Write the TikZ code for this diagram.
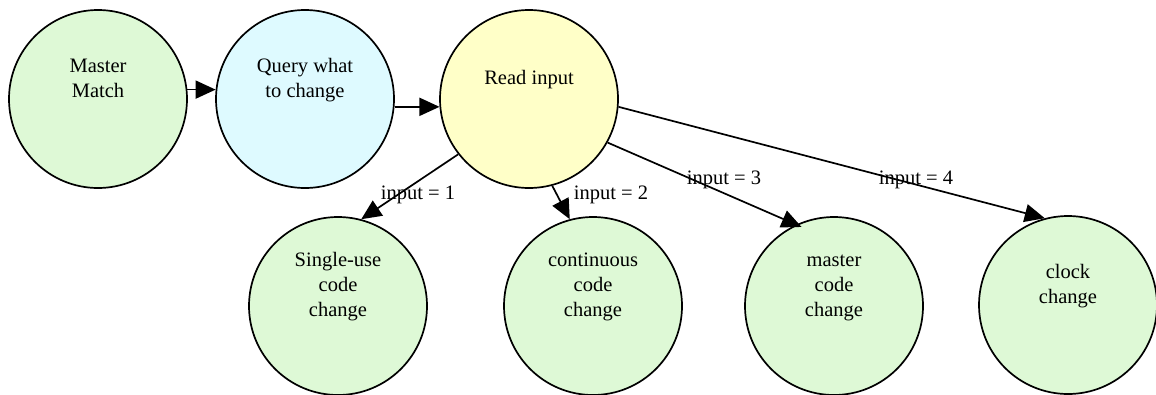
\documentclass[tikz,border=0pt]{standalone}
\usepackage{fontspec}
\setmainfont{Liberation Serif}
\usetikzlibrary{arrows.meta}
\definecolor{mintfill}{RGB}{222,249,214}
\definecolor{skyfill}{RGB}{222,250,255}
\definecolor{creamfill}{RGB}{255,255,200}
% centred block of lines, lifted so it sits in the upper part of a circle
\newcommand\circtext[1]{\raisebox{14pt}{\begin{tabular}[c]{@{}c@{}}#1\end{tabular}}}
\begin{document}
\begin{tikzpicture}[x=1pt,y=-1pt,
  state/.style={circle, draw, line width=1.7pt, minimum size=178pt, inner sep=0pt,
    text height=0pt, text depth=0pt, font=\fontsize{20.5}{25}\selectfont},
  flow/.style={line width=1.7pt, -{Triangle[length=20pt,width=18pt]}},
  cond/.style={font=\fontsize{20.5}{23}\selectfont, inner sep=0pt}]
\useasboundingbox (0,0) rectangle (1156,394);

\node[state, fill=mintfill]  (master) at (98,99)   {\circtext{Master\\Match}};
\node[state, fill=skyfill]   (query)  at (305,99)  {\circtext{Query what\\to change}};
\node[state, fill=creamfill] (read)   at (529,99)  {\circtext{Read input}};
\node[state, fill=mintfill]  (single) at (338,306) {\circtext{Single-use\\code\\change}};
\node[state, fill=mintfill]  (cont)   at (593,306) {\circtext{continuous\\code\\change}};
\node[state, fill=mintfill]  (mcode)  at (834,306) {\circtext{master\\code\\change}};
\node[state, fill=mintfill]  (clock)  at (1068,305) {\circtext{clock\\change}};

\draw[flow] (master.6) -- (query.174);
\draw[flow] (query.-5) -- (read.185);
\draw[flow] (read.-142) -- (single.75);
\draw[flow] (read.-75) -- (cont.105);
\draw[flow, shorten >=-6pt] (read.-29) -- (mcode.115);
\draw[flow] (read.-5) -- (clock.105);

\node[cond] (c1) at (418,195) {input = 1};
\node[cond] (c2) at (611,195) {input = 2};
\node[cond] (c3) at (724,180) {input = 3};
\node[cond] (c4) at (916,180) {input = 4};
\end{tikzpicture}
\end{document}
